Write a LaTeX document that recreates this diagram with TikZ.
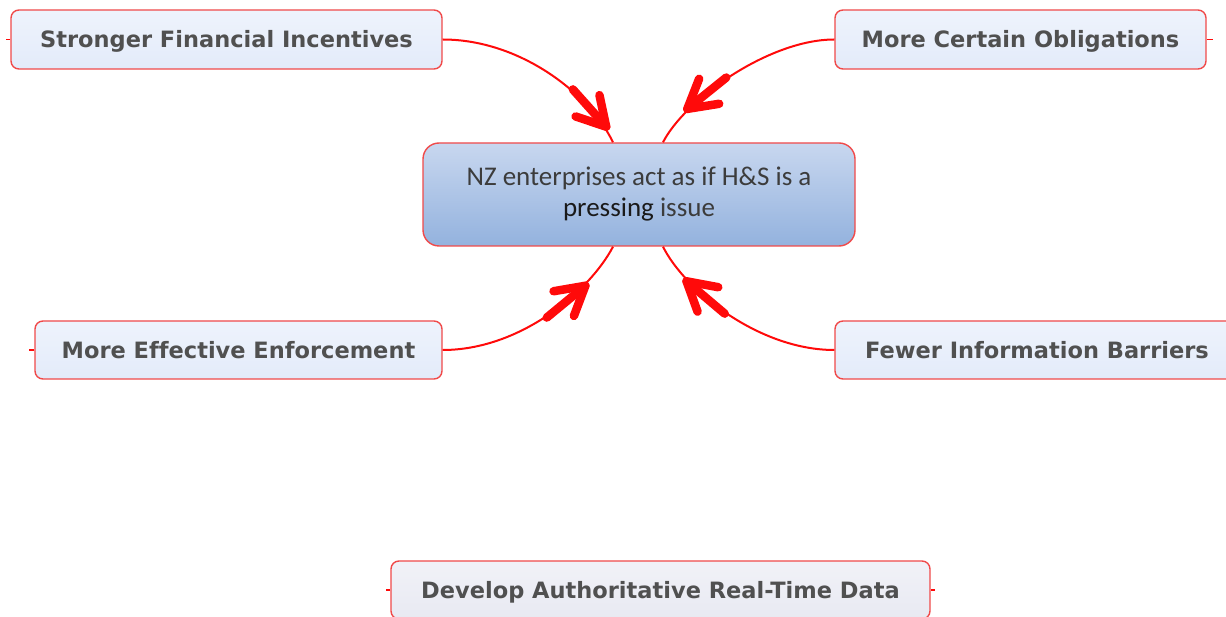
\documentclass[tikz,border=0pt]{standalone}
\usepackage{fontspec}
\setmainfont{Carlito}
\newfontfamily\boxfont{DejaVu Sans}[Ligatures=NoCommon]
\usetikzlibrary{decorations.markings}
\definecolor{bord}{HTML}{F04A4A}
\definecolor{boxtxt}{HTML}{505050}
\definecolor{ctxt}{HTML}{3C3C3C}
\definecolor{ptxt}{HTML}{1A1A1A}
\definecolor{conn}{HTML}{FF0A0A}
\definecolor{ctop}{HTML}{C8D7EF}
\definecolor{cbot}{HTML}{93B2DE}
\definecolor{sfill}{HTML}{E3EBFA}
\definecolor{gfill}{HTML}{E8E9F2}
\tikzset{
  side/.style={draw=bord, line width=1.4pt, rounded corners=8pt, top color=#1!60!white, bottom color=#1,
    text=boxtxt, font=\boxfont\bfseries\fontsize{22.5}{26}\selectfont, inner sep=0pt, anchor=center,
    text height=17pt, text depth=0pt},
  central/.style={draw=bord, line width=1.4pt, rounded corners=16pt, top color=ctop, bottom color=cbot,
    text=ctxt, font=\fontsize{27}{31}\selectfont, align=center, inner sep=0pt},
  conline/.style={draw=conn, line width=2pt},
  bigarrow/.style={postaction={decorate,decoration={markings,mark=at position #1 with {
    \draw[conn,line width=8.5pt,line cap=round,line join=round] (-25pt,0)--(25pt,0);
    \draw[conn,line width=8.5pt,line cap=round,line join=round] (-3pt,16pt)--(25pt,0)--(-3pt,-16pt);}}}}
}
\begin{document}
\begin{tikzpicture}[x=1pt,y=-1pt]
\useasboundingbox (0,0) rectangle (1226,617);
\node[central, minimum width=432pt, minimum height=103pt] (c) at (639,194.5)
  {NZ enterprises act as if H\&S is a\\{\color{ptxt}pressing} issue};
\node[side=sfill, minimum width=431pt, minimum height=59pt] (s1) at (226.5,39.5) {Stronger Financial Incentives};
\node[side=sfill, minimum width=371pt, minimum height=59pt] (s2) at (1020.5,39.5) {More Certain Obligations};
\node[side=sfill, minimum width=407pt, minimum height=58pt] (s3) at (238.5,350) {More Effective Enforcement};
\node[side=sfill, minimum width=404pt, minimum height=58pt] (s4) at (1037,350) {Fewer Information Barriers};
\node[side=gfill, minimum width=539pt, minimum height=58pt] (s5) at (660.5,590) {Develop Authoritative Real-Time Data};
\coordinate (ctl) at ([xshift=-26pt]c.north);
\coordinate (ctr) at ([xshift=24pt]c.north);
\coordinate (cbl) at ([xshift=-26pt]c.south);
\coordinate (cbr) at ([xshift=24pt]c.south);
\draw[conline, bigarrow=0.80] (s1.east) .. controls +(78,0) and +(-23,-48) .. (ctl);
\draw[conline, bigarrow=0.68] (s2.west) .. controls +(-65,0) and +(22,-43) .. (ctr);
\draw[conline, bigarrow=0.65] (s3.east) .. controls +(78,0) and +(-23,44) .. (cbl);
\draw[conline, bigarrow=0.68] (s4.west) .. controls +(-75,0) and +(22,44) .. (cbr);
\draw[conline, line width=1.5pt] (s1.west) -- ++(-4,0);
\draw[conline, line width=1.5pt] (s2.east) -- ++(6,0);
\draw[conline, line width=1.5pt] (s3.west) -- ++(-5,0);
\draw[conline, line width=1.5pt] (s5.west) -- ++(-4,0);
\draw[conline, line width=1.5pt] (s5.east) -- ++(4,0);
\end{tikzpicture}
\end{document}
